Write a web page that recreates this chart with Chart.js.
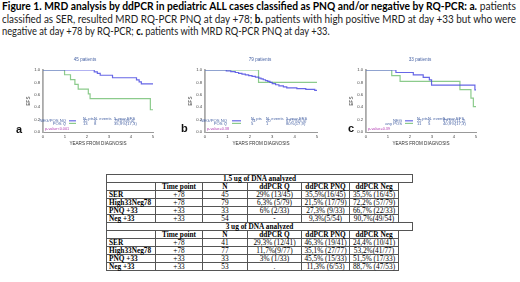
<!DOCTYPE html>
<html>
<head>
<meta charset="utf-8">
<script src="https://cdn.jsdelivr.net/npm/chart.js@4"></script>
<style>
  html, body { margin: 0; padding: 0; background: #fff; }
  body { width: 520px; height: 282px; position: relative; overflow: hidden; }
  .cap { position: absolute; left: 2px; font-family: Lato, "Open Sans", sans-serif; font-size: 11px; line-height: 12px; color: #222; white-space: nowrap; transform-origin: 0 0; }
  .cap b { color: #000; }
  canvas { position: absolute; top: 50px; }
  .lbl { position: absolute; font-family: "Liberation Sans", sans-serif; font-size: 11px; font-weight: bold; color: #111; }
  #tbl { position: absolute; left: 106px; top: 174px; border-collapse: collapse; table-layout: fixed; font-family: "Liberation Serif", serif; font-size: 7.3px; color: #000; }
  #tbl td { border: 1px solid #555; padding: 0; height: 7px; line-height: 7px; text-align: center; white-space: nowrap; overflow: visible; }
  #tbl td.first { text-align: left; padding-left: 2px; font-weight: bold; }
  #tbl tr.head td, #tbl tr.title td { font-weight: bold; }
  #tbl td.blank { border: none; }
</style>
</head>
<body>
<div class="cap" id="cap1" style="top:0px"><b>Figure 1. MRD analysis by ddPCR in pediatric ALL cases classified as PNQ and/or negative by RQ-PCR: a.</b> patients</div>
<div class="cap" id="cap2" style="top:12.5px">classified as SER, resulted MRD RQ-PCR PNQ at day +78; <b>b.</b> patients with high positive MRD at day +33 but who were</div>
<div class="cap" id="cap3" style="top:25px">negative at day +78 by RQ-PCR; <b>c.</b> patients with MRD RQ-PCR PNQ at day +33.</div>

<canvas id="chartA" width="170" height="105" style="left:0px"></canvas>
<canvas id="chartB" width="170" height="105" style="left:165px"></canvas>
<canvas id="chartC" width="170" height="105" style="left:330px"></canvas>
<span class="lbl" style="left:16px; top:123px">a</span>
<span class="lbl" style="left:181px; top:122px">b</span>
<span class="lbl" style="left:348px; top:122px">c</span>

<table id="tbl">
  <colgroup>
    <col style="width:49px"><col style="width:47px"><col style="width:45px">
    <col style="width:54px"><col style="width:48px"><col style="width:49px"><col style="width:14px">
  </colgroup>
  <tbody id="tblBody"></tbody>
</table>

<script>
// shared axis ticks
const yearTicks = [0, 1, 2, 3, 4, 5];
const efsTicks = [0, 0.2, 0.4, 0.6, 0.8, 1.0];
const legendHeader = ['N. pts', 'N. events', '5-year EFS'];

// a. SER patients, PNQ at day +78
const aTitle = '45 patients';
const aNegYears = [0, 2.33, 2.47, 2.6, 3.16, 4.25, 4.37, 4.47, 5];
const aNegEfs = [1, 0.97, 0.945, 0.915, 0.875, 0.84, 0.81, 0.775, 0.775];
const aPosYears = [0, 0.98, 1.25, 1.45, 1.6, 2.06, 2.14, 4.88, 5];
const aPosEfs = [1, 0.923, 0.846, 0.769, 0.692, 0.615, 0.538, 0.359, 0.359];
const aGroups = ['NEG/POS NQ', 'POS Q'];
const aPts = ['32', '13'];
const aEvents = ['5', '8'];
const aEfs5 = ['75,0%(8,4)', '35,9%(17,3)'];
const aPval = 'p-value<0.001';

// b. high positive at day +33, negative at day +78
const bTitle = '79 patients';
const bNegYears = [0, 0.95, 1.15, 1.35, 1.5, 1.65, 1.8, 1.95, 2.1, 2.25, 2.4, 2.5, 2.6, 2.7, 2.8, 2.9, 3.0, 3.15, 3.3, 3.5, 3.65, 4.1, 4.5, 4.9, 5];
const bNegEfs = [1, 0.987, 0.973, 0.96, 0.947, 0.935, 0.922, 0.91, 0.897, 0.884, 0.87, 0.857, 0.843, 0.83, 0.816, 0.8, 0.78, 0.762, 0.745, 0.728, 0.712, 0.7, 0.688, 0.672, 0.665];
const bPosYears = [0, 2.39, 5];
const bPosEfs = [1, 0.8, 0.8];
const bGroups = ['NEG/POS NQ', 'POS Q'];
const bPts = ['74', '5'];
const bEvents = ['20', '1'];
const bEfs5 = ['67,1%(5,5)', '80%(17,9)'];
const bPval = 'p-value=0.38';

// c. PNQ at day +33
const cTitle = '33 patients';
const cNegYears = [0, 1.36, 2.15, 2.6, 2.88, 2.98, 4.95, 5];
const cNegEfs = [1, 0.96, 0.92, 0.88, 0.84, 0.755, 0.68, 0.68];
const cPosYears = [0, 1.17, 1.55, 4.27, 4.77, 4.88, 5];
const cPosEfs = [1, 0.909, 0.818, 0.682, 0.545, 0.409, 0.409];
const cGroups = ['NEG', 'any POS'];
const cPts = ['22', '11'];
const cEvents = ['5', '5'];
const cEfs5 = ['67,5%(11,2)', '40,9%(17,3)'];
const cPval = 'p-value=0.39';

// table
const tableTitles = ['1.5 ug of DNA analyzed', '3 ug of DNA analyzed'];
const tableHeader = ['', 'Time point', 'N', 'ddPCR Q', 'ddPCR PNQ', 'ddPCR Neg'];
const tableGroups = ['SER', 'High33Neg78', 'PNQ +33', 'Neg +33'];
const timePoints = ['+78', '+78', '+33', '+33'];
const n15 = ['45', '79', '33', '54'];
const q15 = ['29% (13/45)', '6,3% (5/79)', '6% (2/33)', '-'];
const pnq15 = ['35,5%(16/45)', '21,5% (17/79)', '27,3% (9/33)', '9,3%(5/54)'];
const neg15 = ['35,5% (16/45)', '72,2% (57/79)', '66,7% (22/33)', '90,7%(49/54)'];
const n3 = ['41', '77', '33', '53'];
const q3 = ['29,3% (12/41)', '11,7%(9/77)', '3% (1/33)', '.'];
const pnq3 = ['46,3% (19/41)', '35,1% (27/77)', '45,5% (15/33)', '11,3% (6/53)'];
const neg3 = ['24,4% (10/41)', '53,2%(41/77)', '51,5% (17/33)', '88,7% (47/53)'];

const BLUE = 'rgba(70, 70, 225, 0.82)';
const GREEN = '#8ccb8c';
const FONT = '"Liberation Sans", Arial, sans-serif';

// squeeze each caption line to the width it has in the figure
[['cap1', 514], ['cap2', 514], ['cap3', 328]].forEach(([id, w]) => {
    const el = document.getElementById(id);
    el.style.transform = 'scaleX(' + (w / el.scrollWidth) + ')';
});

// title, legend block and p-value drawn around the plot area
const kmNotes = {
    id: 'kmNotes',
    afterDraw(chart, args, o) {
        const ctx = chart.ctx;
        const a = chart.chartArea;
        const L = o.pos;
        ctx.save();
        ctx.textBaseline = 'middle';
        ctx.fillStyle = '#4b66a6';
        ctx.font = '4.6px ' + FONT;
        ctx.textAlign = 'center';
        ctx.fillText(o.title, a.left + L.title, a.top - 10);

        ctx.font = '4.2px ' + FONT;
        ctx.textAlign = 'left';
        ctx.fillText(legendHeader[0], a.left + L.c1, a.bottom - 13.5);
        ctx.fillText(legendHeader[1], a.left + L.c2, a.bottom - 13.5);
        ctx.fillText(legendHeader[2], a.left + L.c3, a.bottom - 13.5);
        const rowsY = [a.bottom - 11.2, a.bottom - 8.6];
        const colors = [BLUE, GREEN];
        for (let i = 0; i < 2; i++) {
            ctx.fillStyle = '#4b66a6';
            ctx.textAlign = 'right';
            ctx.fillText(o.groups[i], a.left + L.lab, rowsY[i]);
            ctx.textAlign = 'left';
            ctx.fillText(o.pts[i], a.left + L.c1, rowsY[i]);
            ctx.fillText(o.events[i], a.left + L.c2, rowsY[i]);
            ctx.fillText(o.efs[i], a.left + L.c3, rowsY[i]);
            ctx.strokeStyle = colors[i];
            ctx.lineWidth = 1.2;
            ctx.beginPath();
            ctx.moveTo(a.left + L.l0, rowsY[i]);
            ctx.lineTo(a.left + L.l1, rowsY[i]);
            ctx.stroke();
        }
        ctx.fillStyle = '#b23cb2';
        ctx.font = '3.8px ' + FONT;
        ctx.fillText(o.pval, a.left + 2, a.bottom - 3.5);
        ctx.restore();
    }
};

function toPoints(xs, ys) {
    return xs.map((x, i) => ({ x: x, y: ys[i] }));
}

function makeKM(id, padLeft, padRight, notes, pos, neg) {
    return new Chart(document.getElementById(id), {
        type: 'line',
        data: {
            datasets: [
                { data: neg, borderColor: BLUE, borderWidth: 1.2, stepped: true, pointRadius: 0, fill: false },
                { data: pos, borderColor: GREEN, borderWidth: 1.2, stepped: true, pointRadius: 0, fill: false }
            ]
        },
        options: {
            responsive: false,
            animation: false,
            layout: { padding: { left: padLeft, right: padRight, top: 20, bottom: 9 } },
            plugins: { legend: { display: false }, tooltip: { enabled: false }, kmNotes: notes },
            scales: {
                x: {
                    type: 'linear', min: 0, max: 5,
                    afterFit: s => { s.height = 14; },
                    afterBuildTicks: s => { s.ticks = yearTicks.map(v => ({ value: v })); },
                    grid: { display: false, drawTicks: false },
                    border: { color: '#999', width: 1 },
                    ticks: { font: { family: FONT, size: 4.2 }, color: '#444', padding: 2, maxRotation: 0, autoSkip: false },
                    title: { display: true, text: 'YEARS FROM DIAGNOSIS', font: { family: FONT, size: 4.6 }, color: '#333', padding: 0 }
                },
                y: {
                    min: 0, max: 1,
                    afterFit: s => { s.width = 17; },
                    afterBuildTicks: s => { s.ticks = efsTicks.map(v => ({ value: v })); },
                    grid: { display: false, drawTicks: false },
                    border: { color: '#aaa', width: 1.8 },
                    ticks: { font: { family: FONT, size: 4.2 }, color: '#444', padding: 3, callback: v => v.toFixed(1) },
                    title: { display: true, text: 'EFS', font: { family: FONT, size: 4.6 }, color: '#333', padding: 0 }
                }
            }
        },
        plugins: [kmNotes]
    });
}

makeKM('chartA', 26, 17,
    { title: aTitle, groups: aGroups, pts: aPts, events: aEvents, efs: aEfs5, pval: aPval,
      pos: { title: 42, lab: 23, l0: 26, l1: 33, c1: 40, c2: 51, c3: 71 } },
    toPoints(aPosYears, aPosEfs), toPoints(aNegYears, aNegEfs));
makeKM('chartB', 23, 18,
    { title: bTitle, groups: bGroups, pts: bPts, events: bEvents, efs: bEfs5, pval: bPval,
      pos: { title: 55, lab: 22, l0: 27, l1: 36, c1: 46, c2: 61, c3: 81 } },
    toPoints(bPosYears, bPosEfs), toPoints(bNegYears, bNegEfs));
makeKM('chartC', 19, 24,
    { title: cTitle, groups: cGroups, pts: cPts, events: cEvents, efs: cEfs5, pval: cPval,
      pos: { title: 54, lab: 36, l0: 39, l1: 47, c1: 51, c2: 62, c3: 77 } },
    toPoints(cPosYears, cPosEfs), toPoints(cNegYears, cNegEfs));

// table rows
const body = document.getElementById('tblBody');
function addRow(cells, cls) {
    const tr = document.createElement('tr');
    if (cls) tr.className = cls;
    cells.forEach((txt, i) => {
        const td = document.createElement('td');
        td.textContent = txt;
        if (i === 0) td.className = 'first';
        tr.appendChild(td);
    });
    const extra = document.createElement('td');
    extra.className = 'blank';
    tr.appendChild(extra);
    body.appendChild(tr);
}
function addTitle(text) {
    const tr = document.createElement('tr');
    tr.className = 'title';
    const td = document.createElement('td');
    td.colSpan = 7;
    td.textContent = text;
    tr.appendChild(td);
    body.appendChild(tr);
}
const blocks = [[n15, q15, pnq15, neg15], [n3, q3, pnq3, neg3]];
blocks.forEach((b, k) => {
    addTitle(tableTitles[k]);
    addRow(tableHeader, 'head');
    tableGroups.forEach((g, i) => {
        addRow([g, timePoints[i], b[0][i], b[1][i], b[2][i], b[3][i]]);
    });
});
</script>
</body>
</html>
